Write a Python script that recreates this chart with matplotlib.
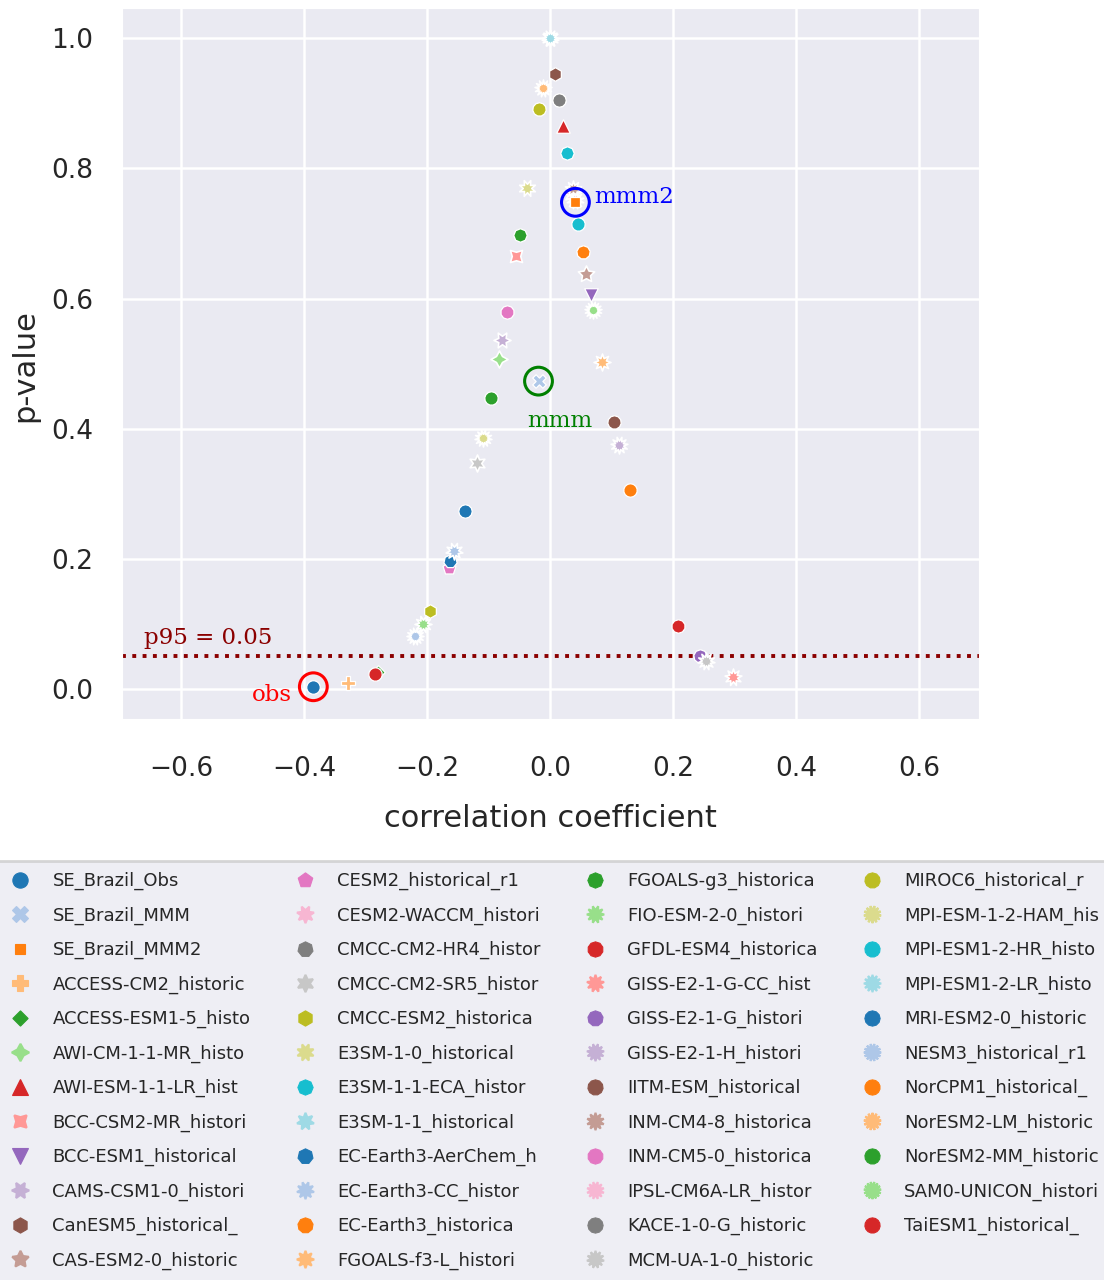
import matplotlib
matplotlib.use("Agg")
import matplotlib.pyplot as plt
from matplotlib.lines import Line2D
import seaborn as sns

# Model / dataset labels (as truncated in the legend)
names = [
    "SE_Brazil_Obs", "SE_Brazil_MMM", "SE_Brazil_MMM2",
    "ACCESS-CM2_historic", "ACCESS-ESM1-5_histo", "AWI-CM-1-1-MR_histo",
    "AWI-ESM-1-1-LR_hist", "BCC-CSM2-MR_histori", "BCC-ESM1_historical",
    "CAMS-CSM1-0_histori", "CanESM5_historical_", "CAS-ESM2-0_historic",
    "CESM2_historical_r1", "CESM2-WACCM_histori", "CMCC-CM2-HR4_histor",
    "CMCC-CM2-SR5_histor", "CMCC-ESM2_historica", "E3SM-1-0_historical",
    "E3SM-1-1-ECA_histor", "E3SM-1-1_historical", "EC-Earth3-AerChem_h",
    "EC-Earth3-CC_histor", "EC-Earth3_historica", "FGOALS-f3-L_histori",
    "FGOALS-g3_historica", "FIO-ESM-2-0_histori", "GFDL-ESM4_historica",
    "GISS-E2-1-G-CC_hist", "GISS-E2-1-G_histori", "GISS-E2-1-H_histori",
    "IITM-ESM_historical", "INM-CM4-8_historica", "INM-CM5-0_historica",
    "IPSL-CM6A-LR_histor", "KACE-1-0-G_historic", "MCM-UA-1-0_historic",
    "MIROC6_historical_r", "MPI-ESM-1-2-HAM_his", "MPI-ESM1-2-HR_histo",
    "MPI-ESM1-2-LR_histo", "MRI-ESM2-0_historic", "NESM3_historical_r1",
    "NorCPM1_historical_", "NorESM2-LM_historic", "NorESM2-MM_historic",
    "SAM0-UNICON_histori", "TaiESM1_historical_",
]

# Correlation coefficient of each dataset
corr = [
    -0.385, -0.019, 0.041,
    -0.329, -0.280, -0.084,
    0.021, -0.055, 0.066,
    -0.079, 0.008, 0.059,
    -0.165, 0.036, 0.015,
    -0.119, -0.195, -0.038,
    0.028, 0.000, -0.163,
    -0.157, 0.053, 0.084,
    -0.049, -0.207, 0.208,
    0.297, 0.244, 0.112,
    0.104, 0.037, -0.070,
    0.040, 0.015, 0.253,
    -0.018, -0.110, 0.046,
    0.000, -0.138, -0.2195,
    0.129, -0.0125, -0.096,
    0.069, -0.285,
]

# p-value of each correlation
pval = [
    0.003, 0.473, 0.748,
    0.008, 0.026, 0.507,
    0.866, 0.666, 0.605,
    0.537, 0.945, 0.638,
    0.186, 0.760, 0.906,
    0.347, 0.120, 0.770,
    0.824, 1.000, 0.196,
    0.211, 0.672, 0.502,
    0.698, 0.100, 0.096,
    0.018, 0.051, 0.375,
    0.410, 0.768, 0.579,
    0.752, 0.906, 0.042,
    0.891, 0.385, 0.715,
    1.000, 0.274, 0.0815,
    0.305, 0.924, 0.447,
    0.582, 0.023,
]

p95 = 0.05


def distinct_markers(n):
    """Sequence of distinguishable marker styles (circle, X, square, ...)."""
    marks = ["o", "X", (4, 0, 45), "P", (4, 0, 0), (4, 1, 0), "^", (4, 1, 45), "v"]
    s = 5
    while len(marks) < n:
        a = 360 / (s + 1) / 2
        marks.extend([(s + 1, 1, a), (s + 1, 0, 0), (s, 1, 0), (s, 0, 0)])
        s += 1
    return marks[:n]


sns.set_style("darkgrid")
plt.rcParams["font.family"] = ["DejaVu Sans"]
plt.rcParams["grid.linewidth"] = 1.8
plt.rcParams["text.color"] = ".15"

palette = sns.color_palette("tab20")
markers = distinct_markers(len(names))

fig = plt.figure(figsize=(11.04, 12.8), dpi=100)
ax = fig.add_axes([122 / 1104, 1 - 719 / 1280, 857 / 1104, 711 / 1280])

handles = []
for i, (nm, x, y) in enumerate(zip(names, corr, pval)):
    m = markers[i]
    col = palette[i % 20]
    is_star = isinstance(m, tuple) and m[1] == 1
    z = 4 if i < 3 else 3
    ax.scatter([x], [y], s=150 if is_star else 95, marker=m, color=col,
               edgecolors="white", linewidths=1.2 if is_star else 0.9,
               zorder=z)
    handles.append(Line2D([], [], linestyle="none", marker=m,
                          markersize=12.5 if is_star else 11,
                          markerfacecolor=col, markeredgecolor=col,
                          markeredgewidth=1.5 if is_star else 0.8, label=nm))

# significance threshold
ax.axhline(p95, color="darkred", linestyle=":", linewidth=2.8, zorder=2)
ax.text(-0.660, 0.068, "p95 = 0.05", color="darkred", family="DejaVu Serif",
        fontsize=16.5, va="baseline", ha="left")

# highlight observation and multi-model means
ax.scatter([corr[0]], [pval[0]], s=400, facecolors="none", edgecolors="red",
           linewidths=2.2, zorder=5)
ax.text(-0.4195, -0.019, "obs", color="red", family="DejaVu Serif",
        fontsize=16.5, va="baseline", ha="right")
ax.scatter([corr[1]], [pval[1]], s=400, facecolors="none", edgecolors="green",
           linewidths=2.2, zorder=5)
ax.text(-0.0374, 0.402, "mmm", color="green", family="DejaVu Serif",
        fontsize=16.5, va="baseline", ha="left")
ax.scatter([corr[2]], [pval[2]], s=400, facecolors="none", edgecolors="blue",
           linewidths=2.2, zorder=5)
ax.text(0.0715, 0.747, "mmm2", color="blue", family="DejaVu Serif",
        fontsize=16.5, va="baseline", ha="left")

ax.set_xlim(-0.696, 0.697)
ax.set_ylim(-0.0466, 1.0468)
ax.set_xticks([-0.6, -0.4, -0.2, 0.0, 0.2, 0.4, 0.6])
ax.set_yticks([0.0, 0.2, 0.4, 0.6, 0.8, 1.0])
ax.tick_params(axis="x", labelsize=19, length=0, pad=27)
ax.tick_params(axis="y", labelsize=19, length=0, pad=21)

ax.set_xlabel("correlation coefficient", fontsize=22)
ax.set_ylabel("p-value", fontsize=22)
ax.xaxis.set_label_coords(0.5, -0.12)
ax.yaxis.set_label_coords(-0.096, 0.497)

leg = fig.legend(handles=handles, loc="upper left",
                 bbox_to_anchor=(-9 / 1104, 1 - 861 / 1280),
                 borderaxespad=0.0, borderpad=0.6,
                 ncol=4, fontsize=13, labelspacing=0.9,
                 handlelength=2.0, handletextpad=0.8, columnspacing=2.0,
                 frameon=True, edgecolor="0.8")
leg.get_frame().set_linewidth(2.0)

fig.savefig("out.png", dpi=100)
